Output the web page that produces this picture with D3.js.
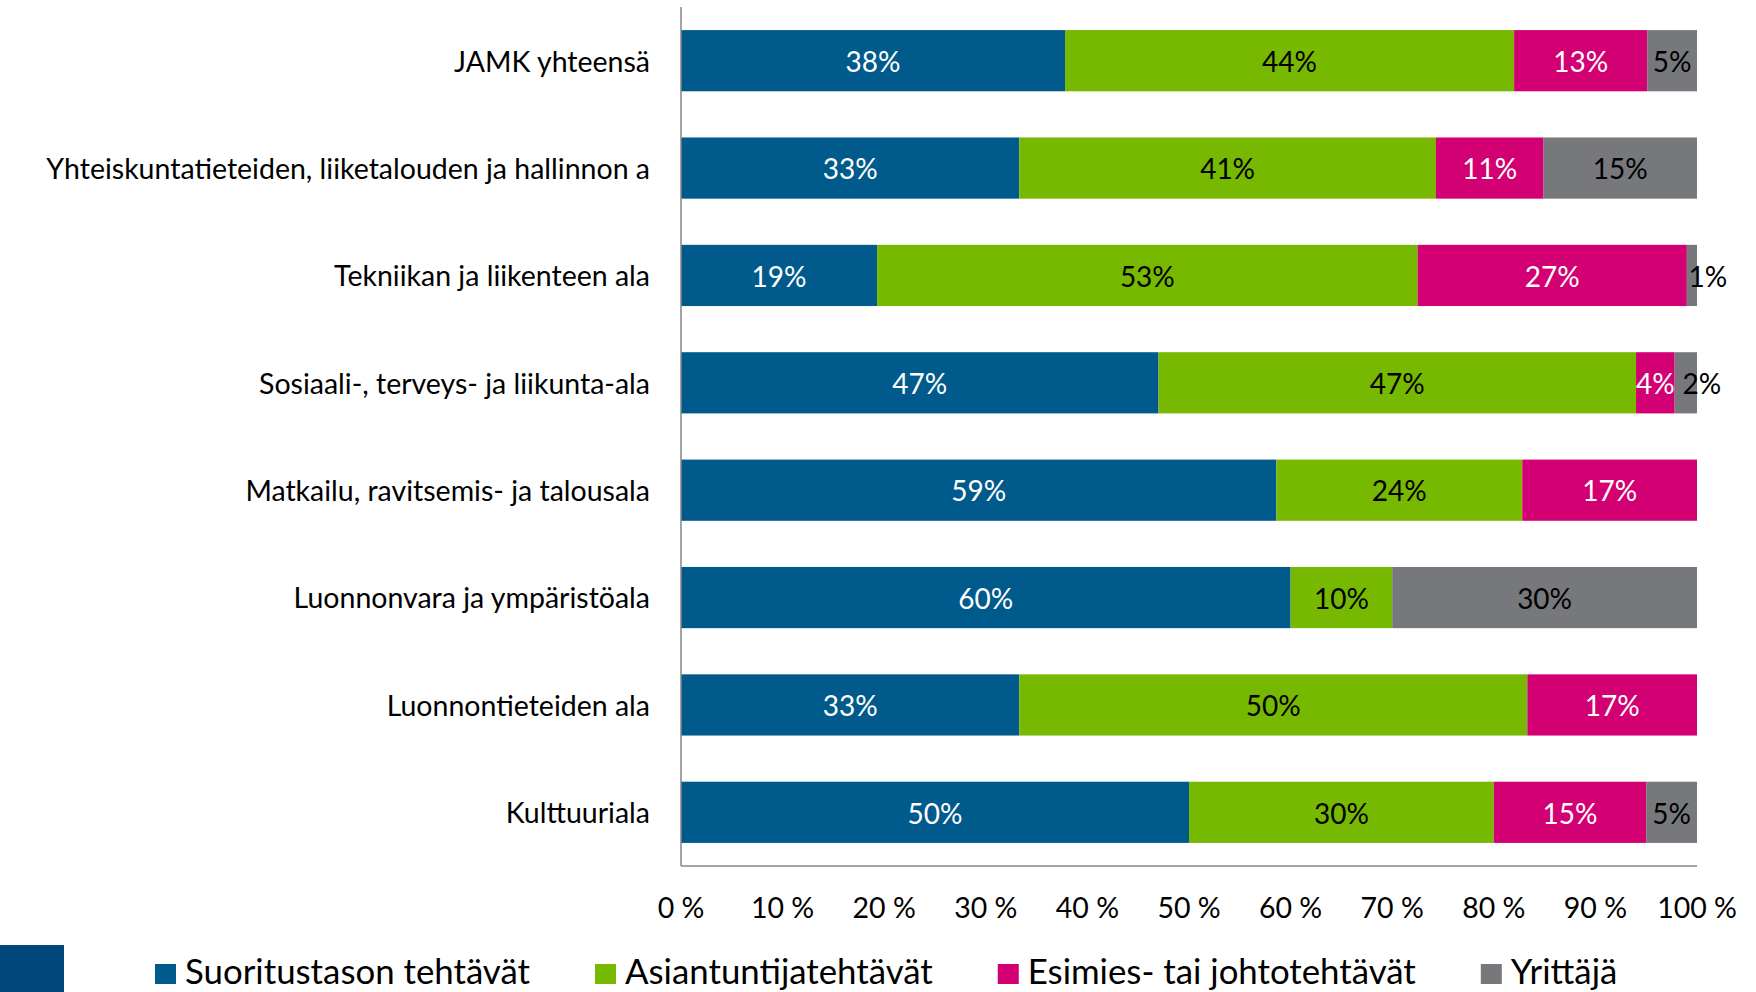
<!DOCTYPE html>
<html>
<head>
<meta charset="utf-8">
<script src="https://cdn.jsdelivr.net/npm/d3@7"></script>
<style>
    body { margin: 0; background: #fff; }
    svg { display: block; font-family: Lato, "Open Sans", sans-serif; }
</style>
</head>
<body>
<div id="chart"></div>
<script>
// data (percent of respondents)
const categories = [
    "JAMK yhteensä",
    "Yhteiskuntatieteiden, liiketalouden ja hallinnon a",
    "Tekniikan ja liikenteen ala",
    "Sosiaali-, terveys- ja liikunta-ala",
    "Matkailu, ravitsemis- ja talousala",
    "Luonnonvara ja ympäristöala",
    "Luonnontieteiden ala",
    "Kulttuuriala"
];
const seriesNames = ["Suoritustason tehtävät", "Asiantuntijatehtävät", "Esimies- tai johtotehtävät", "Yrittäjä"];
const suoritus   = [37.8, 33.3, 19.3, 47, 58.6, 60, 33.3, 50];
const asiantunt  = [44.2, 41, 53.2, 47, 24.2, 10, 50, 30];
const esimies    = [13.1, 10.6, 26.5, 3.8, 17.2, 0, 16.7, 15];
const yrittaja   = [4.9, 15.1, 1, 2.2, 0, 30, 0, 5];
const tickValues = [0, 10, 20, 30, 40, 50, 60, 70, 80, 90, 100];

const colors = ["#005a8c", "#77b800", "#d20073", "#77787b"];
const labelColors = ["#ffffff", "#000000", "#ffffff", "#000000"];

const W = 1756, H = 992;
const plot = { left: 681, right: 1697, top: 7, bottom: 866 };

const svg = d3.select("#chart").append("svg")
    .attr("width", W)
    .attr("height", H);

const seriesValues = [suoritus, asiantunt, esimies, yrittaja];
const rows = categories.map((c, i) => {
    let obj = { label: c };
    seriesNames.forEach((s, j) => obj[s] = seriesValues[j][i]);
    return obj;
});

const stacked = d3.stack().keys(seriesNames)(rows);

const x = d3.scaleLinear().domain([0, 100]).range([plot.left, plot.right]);
const y = d3.scaleBand()
    .domain(categories)
    .range([plot.top, plot.bottom])
    .paddingInner(0.43)
    .paddingOuter(0.215);

// bars
const layers = svg.append("g").selectAll("g")
    .data(stacked)
    .enter().append("g")
    .attr("fill", (d, i) => colors[i]);

layers.selectAll("rect")
    .data(d => d.filter(s => s[1] - s[0] > 0))
    .enter().append("rect")
    .attr("x", d => x(d[0]))
    .attr("width", d => x(d[1]) - x(d[0]))
    .attr("y", d => y(d.data.label))
    .attr("height", y.bandwidth());

// value labels
layers.each(function(layer, i) {
    d3.select(this).selectAll("text")
        .data(layer.filter(s => s[1] - s[0] > 0))
        .enter().append("text")
        .attr("x", d => {
            let cx = (x(d[0]) + x(d[1])) / 2;
            return (d[1] - d[0]) < 3 ? cx + 16 : cx;  // tiny segments: label pushed out right
        })
        .attr("y", d => y(d.data.label) + y.bandwidth() / 2)
        .attr("dy", "0.4em")
        .attr("text-anchor", "middle")
        .attr("font-size", 28)
        .attr("fill", d => (d[1] - d[0]) < 3 ? "#000" : labelColors[i])
        .text(d => Math.round(d[1] - d[0]) + "%");
});

// axes lines
svg.append("line")
    .attr("x1", plot.left).attr("x2", plot.left)
    .attr("y1", plot.top).attr("y2", plot.bottom)
    .attr("stroke", "#868686").attr("stroke-width", 1.5);
svg.append("line")
    .attr("x1", plot.left).attr("x2", plot.right)
    .attr("y1", plot.bottom).attr("y2", plot.bottom)
    .attr("stroke", "#868686").attr("stroke-width", 1.5);

// category labels
svg.append("g").selectAll("text")
    .data(categories)
    .enter().append("text")
    .attr("x", 650)
    .attr("y", d => y(d) + y.bandwidth() / 2)
    .attr("dy", "0.38em")
    .attr("text-anchor", "end")
    .attr("font-size", 28.5)
    .attr("fill", "#000")
    .text(d => d);

// tick labels
svg.append("g").selectAll("text")
    .data(tickValues)
    .enter().append("text")
    .attr("x", d => x(d))
    .attr("y", 918)
    .attr("text-anchor", "middle")
    .attr("font-size", 28.5)
    .attr("fill", "#000")
    .text(d => d + " %");

// dark square bottom left
svg.append("rect")
    .attr("x", 0).attr("y", 945)
    .attr("width", 64).attr("height", 47)
    .attr("fill", "#00477a");

// legend
let lx = 155;
const legend = svg.append("g");
seriesNames.forEach((s, i) => {
    legend.append("rect")
        .attr("x", lx).attr("y", 964)
        .attr("width", 21).attr("height", 20)
        .attr("fill", colors[i]);
    let t = legend.append("text")
        .attr("x", lx + 30)
        .attr("y", 984)
        .attr("font-size", 34.8)
        .attr("fill", "#000")
        .text(s);
    lx = lx + 30 + t.node().getComputedTextLength() + 65;
});
</script>
</body>
</html>
